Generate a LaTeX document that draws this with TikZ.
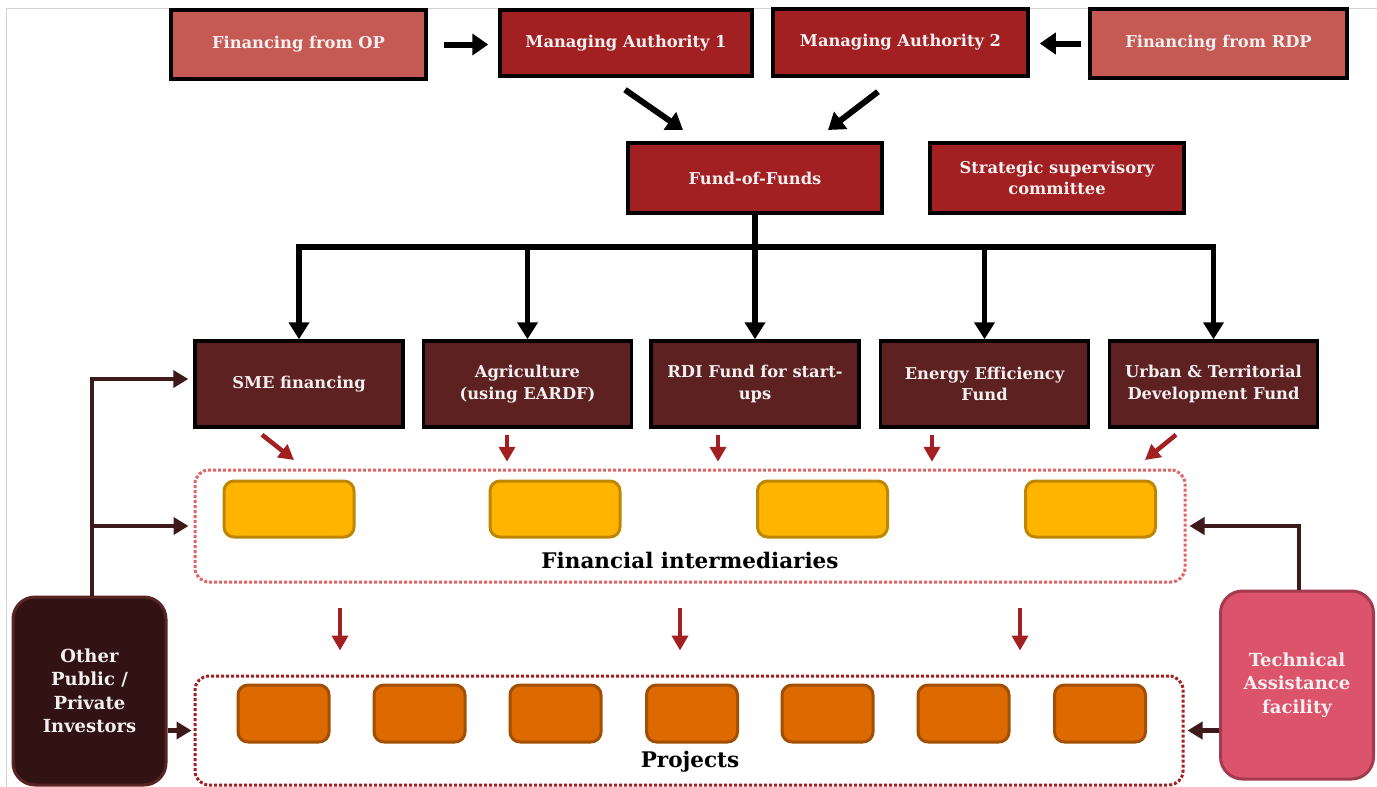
\documentclass[tikz,border=0pt]{standalone}
\usepackage{fontspec}
\setmainfont{DejaVu Serif}
\usetikzlibrary{arrows.meta}
\definecolor{lightred}{HTML}{C55A55}
\definecolor{darkred}{HTML}{A21F22}
\definecolor{maroon}{HTML}{5E2121}
\definecolor{dotlight}{HTML}{E06666}
\definecolor{yel}{HTML}{FFB400}
\definecolor{yelb}{HTML}{BF8700}
\definecolor{ora}{HTML}{DD6A00}
\definecolor{orab}{HTML}{A34F00}
\definecolor{invfill}{HTML}{321313}
\definecolor{invb}{HTML}{5A2424}
\definecolor{tafill}{HTML}{DC546B}
\definecolor{tab}{HTML}{A33A4D}
\definecolor{conn}{HTML}{3F1A1A}
\definecolor{txt}{HTML}{F4F0F0}
\tikzset{
 boxtext/.style={text=txt, font=\fontsize{16.3}{21.5}\selectfont\bfseries, align=center, inner sep=0pt},
 topbox/.style={boxtext, draw=black, line width=3.5pt},
 fundbox/.style={boxtext, draw=black, line width=3.5pt, fill=maroon, minimum width=208, minimum height=86},
 groupbox/.style={dotted, line width=3pt, rounded corners=14, minimum width=990, minimum height=112},
 fibox/.style={draw=yelb, fill=yel, line width=3pt, rounded corners=10, minimum width=130, minimum height=56},
 projbox/.style={draw=orab, fill=ora, line width=3pt, rounded corners=10, minimum width=91, minimum height=57},
 sidebox/.style={boxtext, line width=3pt, rounded corners=22, minimum width=153, minimum height=188, font=\fontsize{18}{23.5}\selectfont\bfseries},
 grouplabel/.style={font=\fontsize{21.5}{25}\selectfont\bfseries, text=black},
 blackarrow/.style={line width=6pt, black, -{Triangle[length=16pt,width=21pt]}},
 treeline/.style={line width=5.5pt, black},
 treearrow/.style={line width=5.5pt, black, -{Triangle[length=17pt,width=20pt]}},
 redarrow/.style={line width=4.5pt, darkred, -{Triangle[length=15pt,width=16pt]}},
 connarrow/.style={line width=4.5pt, conn, -{Triangle[length=15pt,width=17pt]}},
}
\begin{document}
\begin{tikzpicture}[x=1pt,y=-1pt]
\useasboundingbox (0,0) rectangle (1377,787);
\fill[white] (0,0) rectangle (1377,787);
\draw[gray!35, line width=1pt] (6,787) -- (6,8) -- (1377,8);

% top row
\node[topbox, fill=lightred, minimum width=255, minimum height=69] (op) at (298.5,44.5) {Financing from OP};
\node[topbox, fill=darkred, minimum width=252, minimum height=66] (ma1) at (626,43) {Managing Authority 1};
\node[topbox, fill=darkred, minimum width=255, minimum height=67] (ma2) at (900.5,42.5) {Managing Authority 2};
\node[topbox, fill=lightred, minimum width=257, minimum height=69] (rdp) at (1218.5,43.5) {Financing from RDP};

\node[topbox, fill=darkred, minimum width=254, minimum height=70] (fof) at (755,178) {Fund-of-Funds};
\node[topbox, fill=darkred, minimum width=254, minimum height=70] (ssc) at (1057,178) {Strategic supervisory\\committee};

\draw[blackarrow] ([xshift=16pt]op.east) -- ([xshift=-10pt]ma1.west |- op.east);
\draw[blackarrow] ([xshift=-7pt]rdp.west) -- ([xshift=10pt]ma2.east |- rdp.west);
\coordinate (fofin1) at (683,130);
\coordinate (fofin2) at (828,130);
\draw[blackarrow] ([shift={(-1pt,-12pt)}]ma1.south) -- (fofin1);
\draw[blackarrow] ([shift={(-22.5pt,-14pt)}]ma2.south) -- (fofin2);

% funds row
\node[fundbox] (sme) at (299,384) {SME financing};
\node[fundbox] (agr) at (527.5,384) {Agriculture\\(using EARDF)};
\node[fundbox] (rdi) at (755,384) {RDI Fund for start-\\ups};
\node[fundbox] (ene) at (984.5,384) {Energy Efficiency\\Fund};
\node[fundbox] (urb) at (1213.5,384) {Urban \& Territorial\\Development Fund};

\coordinate (bus) at (755,247);
\draw[treeline] (fof.south) -- (bus);
\draw[treeline, line cap=rect] (sme.north |- bus) -- (urb.north |- bus);
\foreach \n in {sme,agr,rdi,ene,urb}
  \draw[treearrow] (\n.north |- bus) -- (\n.north);

% financial intermediaries
\node[groupbox, draw=dotlight] (fi) at (690,526) {};
\node[fibox] (fi1) at (289,509) {};
\node[fibox] (fi2) at (555,509) {};
\node[fibox] (fi3) at (822.5,509) {};
\node[fibox] (fi4) at (1090.5,509) {};
\node[grouplabel] (filab) at (690,560) {Financial intermediaries};

\coordinate (r1) at (294,460);
\coordinate (r5) at (1145,460);
\draw[redarrow] ([shift={(-37pt,-6pt)}]sme.south) -- (r1);
\draw[redarrow] ([shift={(-20.5pt,-6pt)}]agr.south) -- ++(0,27);
\draw[redarrow] ([shift={(-37pt,-6pt)}]rdi.south) -- ++(0,27);
\draw[redarrow] ([shift={(-52.5pt,-6pt)}]ene.south) -- ++(0,27);
\draw[redarrow] ([shift={(-37.5pt,-6pt)}]urb.south) -- (r5);

% projects
\node[groupbox, draw=darkred, minimum width=988, minimum height=109] (proj) at (689,730.5) {};
\foreach \x [count=\i] in {283.5,419.5,555.5,692,827.5,963.5,1100}
  \node[projbox] (p\i) at (\x,713.5) {};
\node[grouplabel] (projlab) at (690,762) {Projects};

\draw[redarrow] ([shift={(-350pt,-24pt)}]fi.south) -- ++(0,43);
\draw[redarrow] ([shift={(-10pt,-24pt)}]fi.south) -- ++(0,43);
\draw[redarrow] ([shift={(330pt,-24pt)}]fi.south) -- ++(0,43);

% side boxes
\node[sidebox, draw=invb, fill=invfill] (inv) at (89.5,691) {Other\\Public /\\Private\\Investors};
\node[sidebox, draw=tab, fill=tafill] (ta) at (1297,685) {Technical\\Assistance\\facility};

\draw[connarrow] ([xshift=2.5pt]inv.north) |- ([shift={(-5pt,5pt)}]sme.west);
\draw[connarrow] ([xshift=2.5pt]inv.north |- fi.west) -- ([xshift=-5pt]fi.west);
\draw[connarrow] (inv.east |- proj.west) -- ([xshift=-2pt]proj.west);
\draw[connarrow] ([xshift=2pt]ta.north) |- ([xshift=3pt]fi.east);
\draw[connarrow] (ta.west |- proj.east) -- ([xshift=3pt]proj.east);
\end{tikzpicture}
\end{document}
